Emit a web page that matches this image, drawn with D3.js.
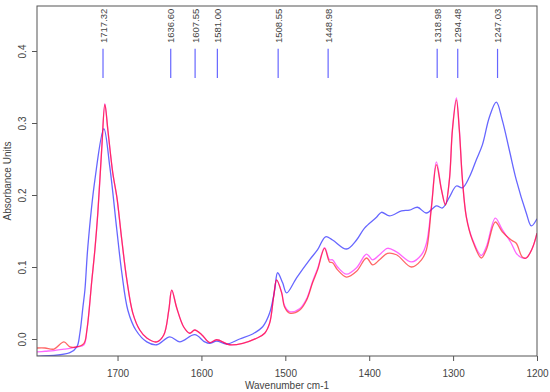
<!DOCTYPE html>
<html><head><meta charset="utf-8">
<script src="https://cdn.jsdelivr.net/npm/d3@7"></script>
<style>
body{margin:0;background:#fff;}
text{font-family:"Liberation Sans",Arial,sans-serif;fill:#444;}
</style></head>
<body><svg id="c" width="550" height="392"></svg>
<script>
// wavenumbers (cm-1) and absorbance values
const blueWn = [1796,1756.8,1748.5,1744.9,1741.3,1738.9,1735.4,1727,1716.3,1709.2,1700.8,1694.9,1687.7,1678.2,1665.1,1653.2,1637.7,1625.8,1608,1596,1590.1,1581.8,1569.9,1554.4,1538.9,1527,1518.7,1512.7,1509.2,1503.2,1498.5,1486.6,1471.1,1461.5,1452,1443.7,1427,1415.1,1405.6,1391.3,1385.4,1375.8,1361.5,1352,1342.5,1331.8,1319.9,1312.7,1304.4,1296.1,1288.9,1280.6,1272.3,1265,1256.8,1248.5,1241.4,1233,1224.7,1212.8,1206.8,1200];
const blueA  = [-0.024,-0.019,-0.011,0.008,0.044,0.068,0.128,0.221,0.292,0.239,0.151,0.092,0.040,0.0125,-0.004,-0.008,0.003,-0.004,0.006,-0.004,-0.006,-0.003,-0.007,0.0,0.007,0.017,0.036,0.068,0.092,0.078,0.064,0.085,0.110,0.124,0.142,0.1375,0.125,0.1375,0.154,0.169,0.176,0.171,0.178,0.179,0.183,0.175,0.185,0.182,0.197,0.2125,0.210,0.225,0.249,0.270,0.308,0.329,0.304,0.2625,0.221,0.175,0.157,0.167];

const redWn = [1796,1786.5,1775.8,1763.9,1756.8,1748.5,1740.1,1736.5,1730.6,1727,1723.5,1718.7,1715.1,1711.5,1705.6,1700.8,1694.9,1688.9,1681.8,1673.5,1665.1,1653.2,1644.9,1638.9,1635.4,1629.4,1621.1,1614,1608,1599.7,1590.1,1581.8,1566.4,1550.8,1534.2,1524.6,1518.7,1514,1510.4,1504.4,1500.8,1495,1483,1474.6,1467.5,1461.5,1453.2,1447.3,1443.7,1437.7,1427,1415.1,1403.2,1396,1387.7,1378.2,1367.5,1349.6,1337.7,1331.8,1325.8,1319.9,1313.9,1309.2,1304.4,1300.8,1296.1,1292.6,1288.9,1284.2,1277.1,1266.4,1260.4,1249.7,1241.4,1230.7,1224.7,1217.6,1212.8,1205.6,1200];
const redA  = [-0.0125,-0.0125,-0.014,-0.004,-0.011,-0.011,-0.006,0.0125,0.082,0.124,0.175,0.267,0.326,0.29,0.23,0.197,0.1375,0.082,0.036,0.0125,0.0014,-0.004,0.0055,0.040,0.068,0.043,0.0167,0.008,0.0125,0.006,-0.005,-0.001,-0.008,-0.006,0.001,0.008,0.022,0.058,0.082,0.064,0.044,0.036,0.040,0.054,0.078,0.096,0.126,0.107,0.106,0.096,0.086,0.094,0.1125,0.103,0.110,0.119,0.117,0.100,0.110,0.124,0.183,0.242,0.207,0.186,0.221,0.29,0.332,0.29,0.221,0.169,0.1375,0.1125,0.124,0.1625,0.149,0.1375,0.133,0.114,0.1125,0.126,0.147];
const magentaA = [-0.018,-0.017,-0.016,-0.014,-0.013,-0.011,-0.008,0.0125,0.082,0.124,0.175,0.267,0.327,0.29,0.23,0.197,0.1375,0.082,0.036,0.0125,0.0014,-0.004,0.0055,0.040,0.068,0.043,0.0167,0.008,0.0125,0.006,-0.005,-0.001,-0.008,-0.006,0.001,0.008,0.022,0.058,0.082,0.065,0.046,0.038,0.042,0.056,0.080,0.098,0.127,0.110,0.110,0.100,0.090,0.099,0.118,0.110,0.117,0.126,0.121,0.107,0.117,0.133,0.185,0.246,0.208,0.187,0.222,0.292,0.335,0.292,0.222,0.170,0.139,0.116,0.128,0.168,0.152,0.133,0.119,0.1125,0.1125,0.126,0.147];

const peakWn = [1717.32,1636.60,1607.55,1581.00,1508.55,1448.98,1318.98,1294.48,1247.03];
const peakLabels = ["1717.32","1636.60","1607.55","1581.00","1508.55","1448.98","1318.98","1294.48","1247.03"];
const xTicks = [1700,1600,1500,1400,1300,1200];
const yTicks = [0.0,0.1,0.2,0.3,0.4];
const peakBarA = [0.3625,0.403];

const L=37,R=537,T=6,B=356;
const svg=d3.select("#c");
const x=d3.scaleLinear().domain([1796,1200]).range([L,R]);
const y=d3.scaleLinear().domain([-0.0236,0.4625]).range([B,T]);

svg.append("clipPath").attr("id","clip").append("rect")
  .attr("x",L).attr("y",T).attr("width",R-L).attr("height",B-T);

const line=d3.line().x(d=>x(d[0])).y(d=>y(d[1])).curve(d3.curveCatmullRom.alpha(0.5));
const g=svg.append("g").attr("clip-path","url(#clip)");
const series=[
  {wn:blueWn,a:blueA,c:"rgba(0,0,255,0.6)"},
  {wn:redWn,a:magentaA,c:"rgba(255,0,255,0.6)"},
  {wn:redWn,a:redA,c:"rgba(255,0,0,0.6)"}
];
series.forEach(s=>{
  g.append("path").datum(s.wn.map((w,i)=>[w,s.a[i]]))
   .attr("d",line).attr("fill","none").attr("stroke",s.c).attr("stroke-width",1.3);
});

// peak markers
peakWn.forEach((p,i)=>{
  svg.append("line").attr("x1",x(p)).attr("x2",x(p))
    .attr("y1",y(peakBarA[0])).attr("y2",y(peakBarA[1]))
    .attr("stroke","rgba(0,0,255,0.6)").attr("stroke-width",1.2);
  svg.append("text").attr("transform",`translate(${x(p)+3.5},43) rotate(-90)`)
    .attr("text-anchor","start").attr("font-size",9.5).text(peakLabels[i]);
});

// frame
svg.append("rect").attr("x",L).attr("y",T).attr("width",R-L).attr("height",B-T)
  .attr("fill","none").attr("stroke","#555").attr("stroke-width",1);

// x axis
const xa=svg.append("g").attr("transform",`translate(0,${B})`)
  .call(d3.axisBottom(x).tickValues(xTicks).tickSize(5).tickPadding(9).tickFormat(d3.format("d")));
xa.select(".domain").remove();
xa.selectAll("line").attr("stroke","#555");
xa.selectAll("text").attr("font-size",10).attr("fill","#444").style("font-family","Liberation Sans, Arial, sans-serif");

// y axis
const ya=svg.append("g").attr("transform",`translate(${L},0)`)
  .call(d3.axisLeft(y).tickValues(yTicks).tickSize(5).tickFormat(d3.format(".1f")));
ya.select(".domain").remove();
ya.selectAll("line").attr("stroke","#555");
ya.selectAll("text").attr("font-size",10).attr("fill","#444")
  .style("font-family","Liberation Sans, Arial, sans-serif")
  .attr("x",0).attr("dy",0).attr("text-anchor","middle")
  .attr("transform",d=>`translate(-11,0) rotate(-90)`);

svg.append("text").attr("x",(L+R)/2).attr("y",389).attr("text-anchor","middle")
  .attr("font-size",10).text("Wavenumber cm-1");
svg.append("text").attr("transform",`translate(11,${(T+B)/2}) rotate(-90)`)
  .attr("text-anchor","middle").attr("font-size",10).text("Absorbance Units");
</script></body></html>
